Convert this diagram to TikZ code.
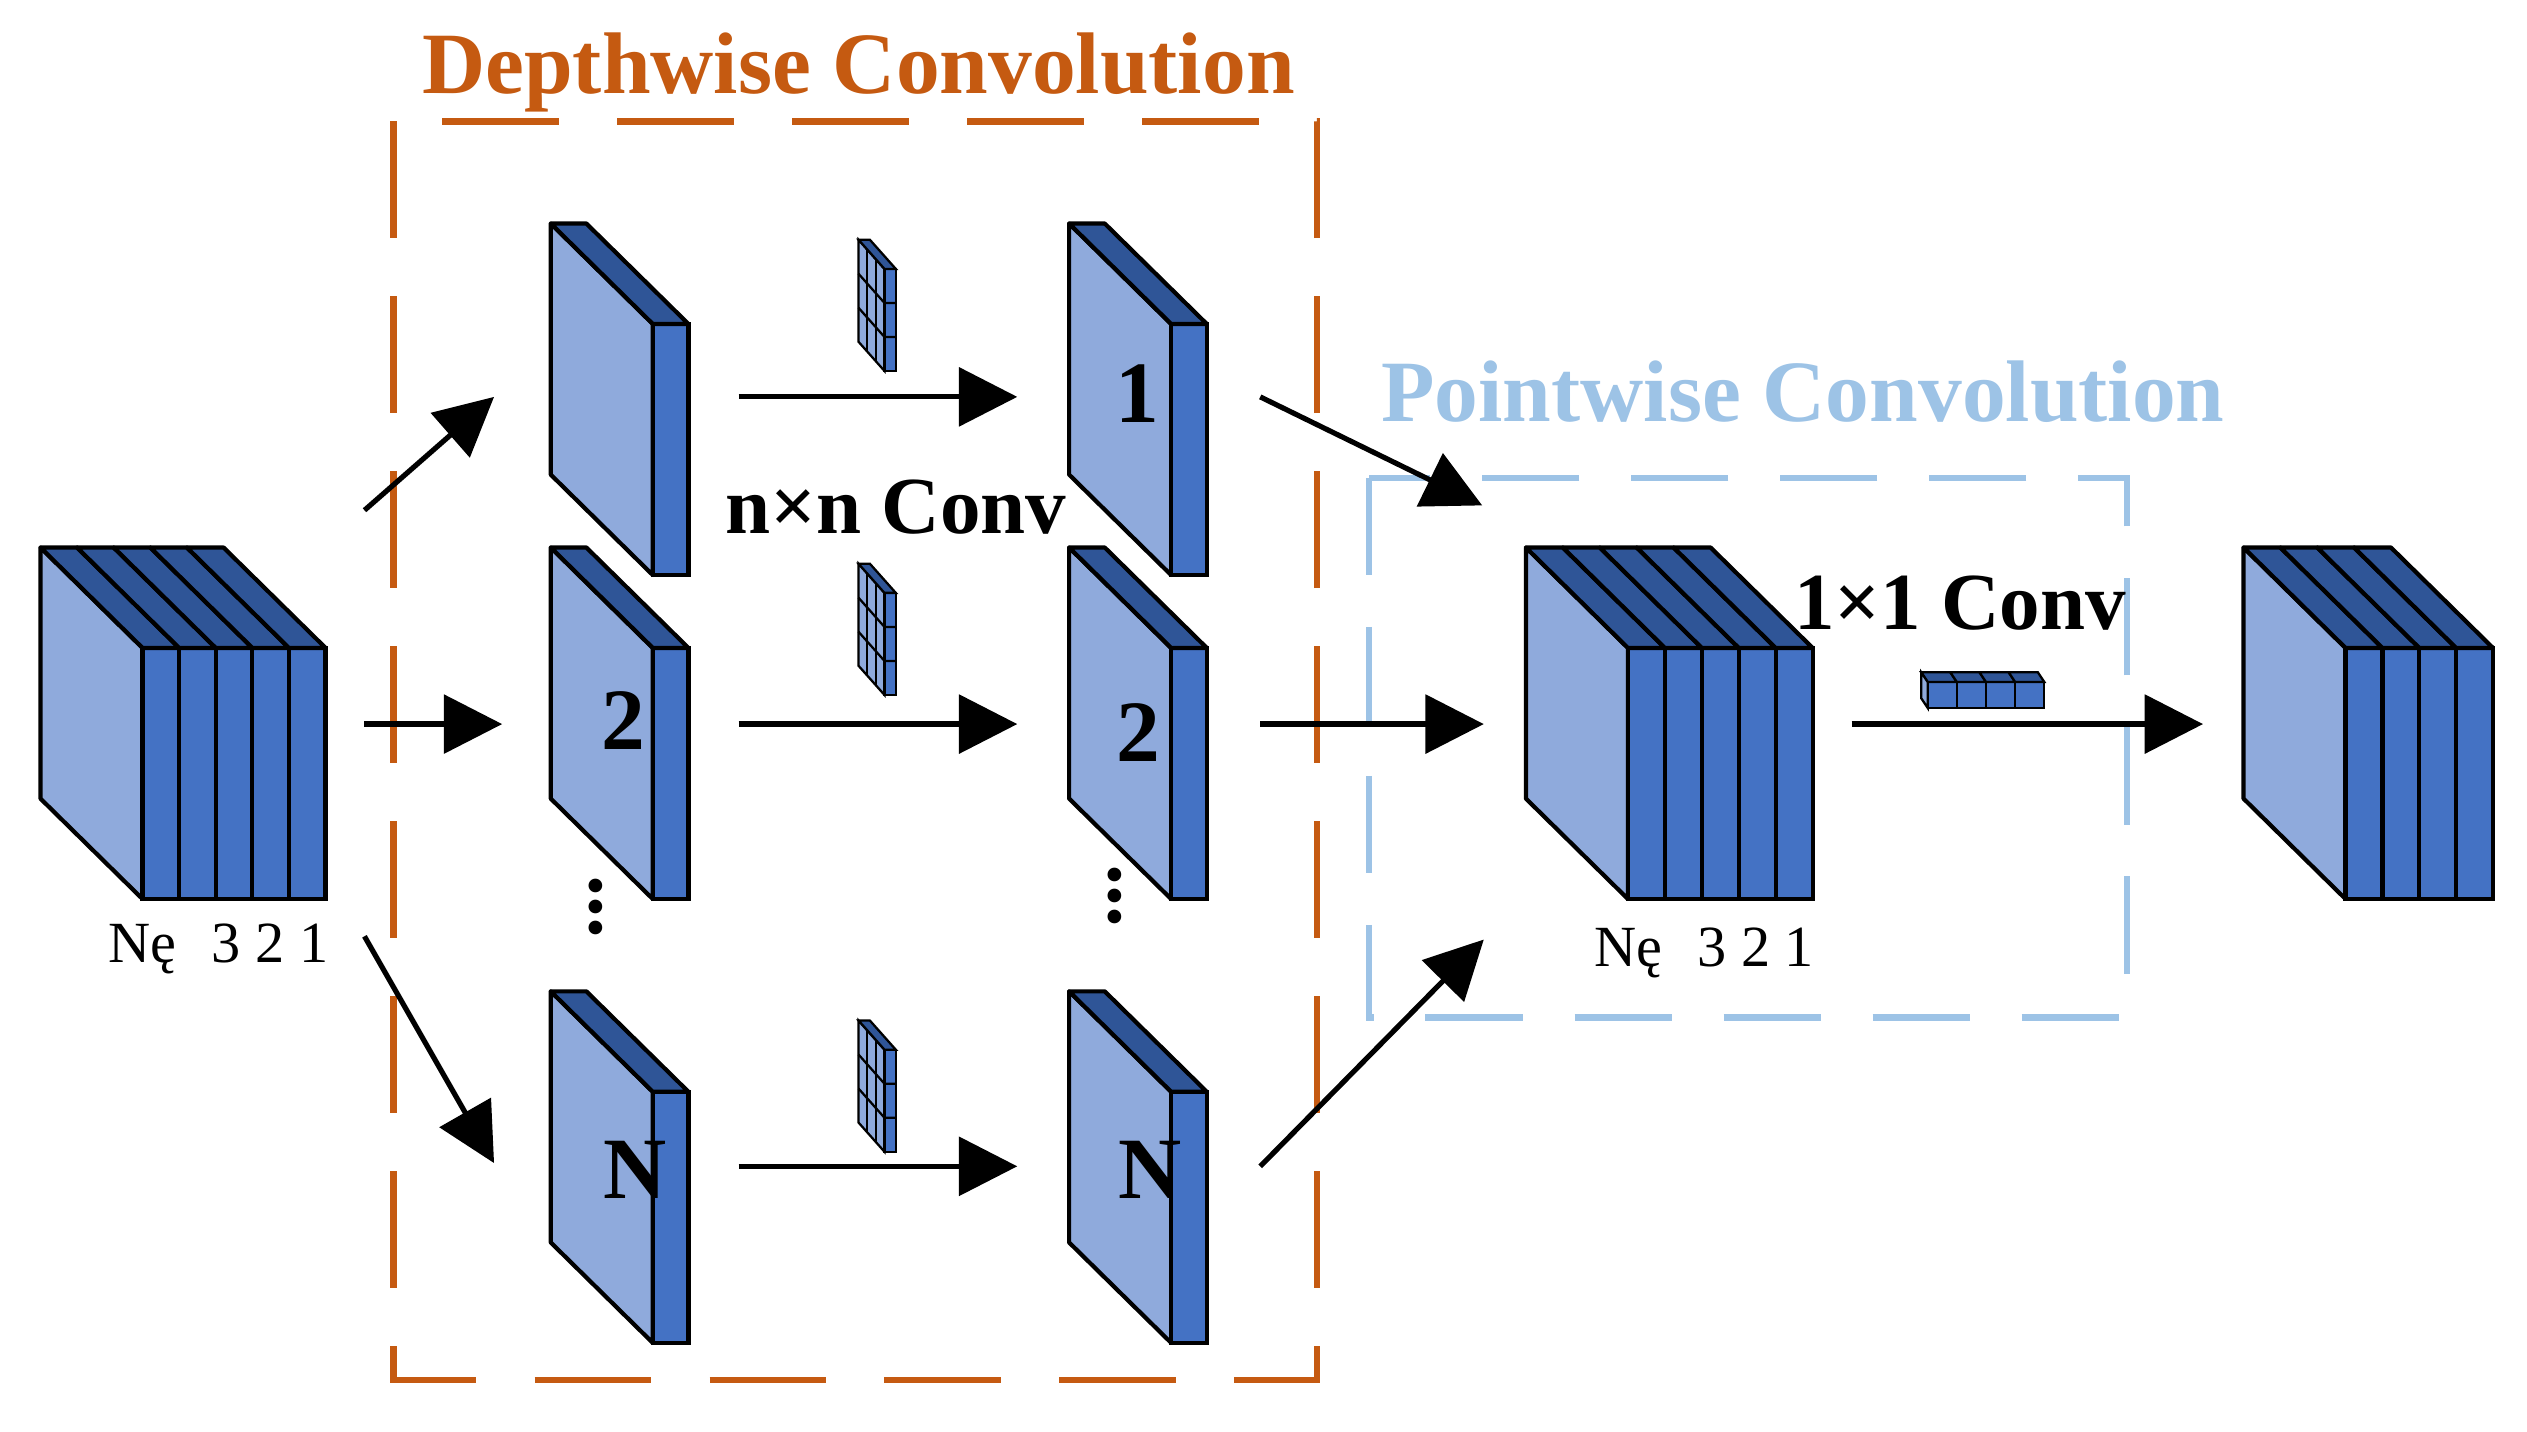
\documentclass[tikz,border=0pt]{standalone}
\usepackage{fontspec}
\setmainfont{Liberation Serif}
\usetikzlibrary{arrows.meta}
\definecolor{lightf}{HTML}{8FAADC}
\definecolor{frontf}{HTML}{4472C4}
\definecolor{topf}{HTML}{2F5597}
\definecolor{orng}{HTML}{C55A11}
\definecolor{lblue}{HTML}{9DC3E6}
\newcommand\cstack[4]{%
 \filldraw[fill=lightf,line width=1.3pt,line join=round] (#1,#2) -- ++(63,62) -- ++(0,155) -- ++(-63,-62) -- cycle;
 \foreach \i in {1,...,#3}{%
  \filldraw[fill=frontf,line width=1.3pt] ({#1+63+(\i-1)*#4},{#2+62}) rectangle ++(#4,155);
  \filldraw[fill=topf,line width=1.3pt,line join=round] ({#1+(\i-1)*#4},#2) -- ++(#4,0) -- ++(63,62) -- ++(-#4,0) -- cycle;}}
\newcommand\kgrid[2]{%
 \begin{scope}[shift={(#1,#2)},line width=0.7pt]
 \filldraw[fill=lightf] (0,0) -- (16,18) -- (16,81) -- (0,63) -- cycle;
 \filldraw[fill=frontf] (16,18) rectangle (23,81);
 \filldraw[fill=topf] (0,0) -- (7,0) -- (23,18) -- (16,18) -- cycle;
 \draw (0,21) -- (16,39) -- (23,39); \draw (0,42) -- (16,60) -- (23,60);
 \draw (5.3,6) -- (5.3,69); \draw (10.6,12) -- (10.6,75);
 \end{scope}}
\tikzset{arr/.style={line width=1.6pt,-{Triangle[length=18pt,width=18pt]}},
 title/.style={font=\fontsize{27}{30}\selectfont\bfseries},
 lab/.style={font=\fontsize{25}{28}\selectfont\bfseries},
 num/.style={font=\fontsize{27}{30}\selectfont\bfseries},
 small/.style={font=\fontsize{18}{20}\selectfont}}
\begin{document}
\begin{tikzpicture}[x=0.5pt,y=-0.5pt]
\useasboundingbox (0,0) rectangle (1560,884);
% dashed boxes
\draw[orng,line width=2pt,dash pattern=on 36pt off 18pt] (243,75) rectangle (813,852);
\draw[lblue,line width=2pt,dash pattern=on 30pt off 16pt] (845,295) rectangle (1313,628);
\node[title,text=orng] (t1) at (530,45) {Depthwise Convolution};
\node[title,text=lblue] (t2) at (1113,242) {Pointwise Convolution};
% cubes
\cstack{25}{338}{5}{22.6}
\node[small] (l1) at (135,586) {Nę\hspace{0.6em}3 2 1};
\cstack{340}{138}{1}{22}
\cstack{340}{338}{1}{22}
\cstack{340}{612}{1}{22}
\cstack{660}{138}{1}{22}
\cstack{660}{338}{1}{22}
\cstack{660}{612}{1}{22}
\cstack{942}{338}{5}{22.8}
\node[small] (l2) at (1052,588) {Nę\hspace{0.6em}3 2 1};
\cstack{1385}{338}{4}{22.75}
\node[num] (n1) at (702,243) {1};
\node[num] (n2) at (385,445) {2};
\node[num] (n3) at (703,452) {2};
\node[num] (n4) at (392,722) {N};
\node[num] (n5) at (710,722) {N};
\node[font=\fontsize{26}{28}\selectfont\bfseries] (d1) at (368,560) {\rotatebox{90}{...}};
\node[font=\fontsize{26}{28}\selectfont\bfseries] (d2) at (688,553) {\rotatebox{90}{...}};
\kgrid{530}{148}
\kgrid{530}{348}
\kgrid{530}{630}
% 1x1 kernel
\foreach \i in {0,...,3}{
 \filldraw[fill=frontf,line width=0.7pt] ({1190+\i*18},421) rectangle ++(18,16);
 \filldraw[fill=topf,line width=0.7pt] ({1186+\i*18},415) -- ++(18,0) -- ++(4,6) -- ++(-18,0) -- cycle;}
\filldraw[fill=lightf,line width=0.7pt] (1186,415) -- (1190,421) -- (1190,437) -- (1186,431) -- cycle;
\node[lab] (c1) at (553,313) {n×n Conv};
\node[lab] (c2) at (1210,372) {1×1 Conv};
% arrows
\coordinate (a1) at (225,315); \coordinate (b1) at (305,245);
\coordinate (a2) at (225,447); \coordinate (b2) at (310,447);
\coordinate (a3) at (225,578); \coordinate (b3) at (305,718);
\draw[arr] (a1) -- (b1); \draw[arr] (a2) -- (b2); \draw[arr] (a3) -- (b3);
\foreach \y in {245,447,720}{\draw[arr] (456,\y) -- (628,\y);}
\coordinate (p1) at (778,245); \coordinate (q1) at (915,312);
\coordinate (p2) at (778,447); \coordinate (q2) at (916,447);
\coordinate (p3) at (778,720); \coordinate (q3) at (916,580);
\draw[arr] (p1) -- (q1); \draw[arr] (p2) -- (q2); \draw[arr] (p3) -- (q3);
\coordinate (r1) at (1143,447); \coordinate (s1) at (1360,447);
\draw[arr] (r1) -- (s1);
\end{tikzpicture}
\end{document}
